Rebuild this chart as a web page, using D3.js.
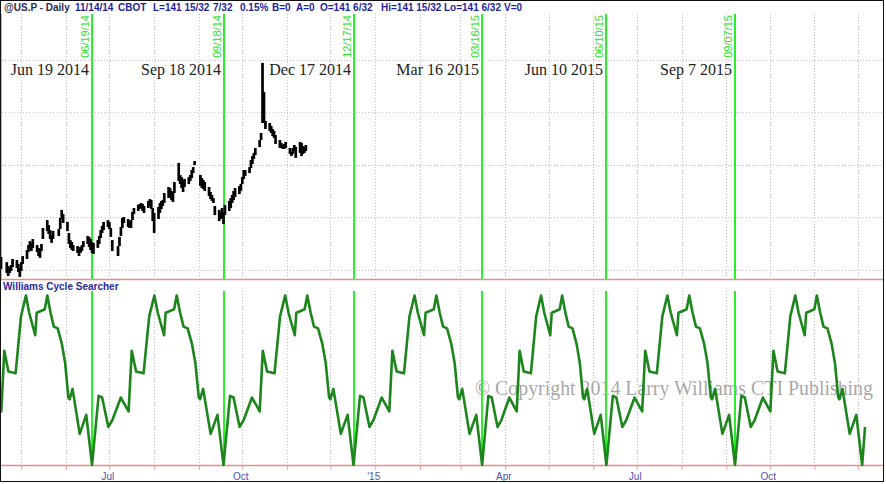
<!DOCTYPE html>
<html><head><meta charset="utf-8">
<script src="https://cdnjs.cloudflare.com/ajax/libs/d3/7.8.5/d3.min.js"></script>
<style>body{margin:0;background:#fff;} svg{display:block;}</style>
</head><body><svg id="c" width="886" height="484"></svg>
<script>
// ---------------- data ----------------
const headerItems = ["@US.P - Daily","11/14/14","CBOT","L=141 15/32","7/32","0.15%","B=0","A=0","O=141 6/32","Hi=141 15/32","Lo=141 6/32","V=0"];
const panelTitle = "Williams Cycle Searcher";
const copyrightText = "\u00A9 Copyright 2014 Larry Williams CTI Publishing";

const barStart = "2014-04-17", barEnd = "2014-11-14";
const holidays = ["2014-04-18","2014-05-26","2014-07-04","2014-09-01"];
const priceHigh = [
134.50,134.30,134.15,134.11,134.19,134.42,134.38,134.23,134.08,134.30,
134.53,134.76,134.95,135.10,135.03,135.18,134.95,134.84,134.76,134.99,
135.60,135.90,135.71,135.52,135.33,135.49,135.56,135.98,136.29,136.13,
135.83,135.41,135.14,135.07,134.95,134.91,134.80,134.88,134.95,135.10,
135.30,135.26,135.18,135.07,135.03,135.14,135.30,135.52,135.68,135.83,
135.90,135.83,135.60,135.14,134.91,135.26,135.64,135.98,136.02,135.94,
135.87,135.90,136.21,136.36,136.48,136.51,136.55,136.51,136.44,136.63,
136.70,136.67,136.36,136.17,136.40,136.55,136.63,136.67,136.93,137.16,
137.12,137.01,136.97,137.35,138.08,137.62,137.54,137.39,137.47,137.54,
137.62,137.81,137.92,138.15,137.62,137.50,137.43,137.35,137.16,136.97,
136.86,136.74,136.44,136.29,136.21,136.36,136.21,136.48,136.63,136.74,
136.86,137.01,137.12,137.20,137.28,137.54,137.81,137.81,137.92,138.19,
138.34,138.46,138.65,138.95,139.22,141.89,140.78,139.68,139.60,139.49,
139.37,139.30,139.14,138.95,138.84,138.76,138.80,138.88,138.65,138.50,
138.65,138.76,138.69,138.88,138.84,138.72,138.69,138.76];
const priceLow = [
134.08,133.92,133.81,133.92,134.00,134.15,134.11,133.96,133.77,134.00,
134.27,134.46,134.72,134.84,134.76,134.88,134.72,134.57,134.50,134.76,
135.22,135.52,135.41,135.22,135.07,135.22,135.33,135.60,135.98,135.83,
135.52,135.03,134.88,134.80,134.76,134.69,134.57,134.69,134.76,134.91,
135.03,134.91,134.80,134.69,134.65,134.88,135.03,135.26,135.45,135.56,
135.68,135.60,135.30,134.76,134.57,134.95,135.33,135.64,135.83,135.68,
135.64,135.64,135.94,136.17,136.29,136.36,136.40,136.29,136.21,136.40,
136.48,136.36,135.90,135.45,135.98,136.21,136.36,136.48,136.59,136.78,
136.82,136.70,136.63,136.97,137.43,137.31,137.16,137.01,137.20,137.31,
137.43,137.54,137.73,138.04,137.24,137.16,137.12,137.05,136.86,136.74,
136.67,136.59,136.13,135.90,135.98,136.02,135.79,136.13,136.29,136.40,
136.59,136.70,136.82,136.93,137.05,137.31,137.50,137.62,137.73,137.92,
138.08,138.27,138.42,138.72,138.99,139.64,139.64,139.41,139.33,139.26,
139.14,139.07,138.84,138.69,138.69,138.65,138.65,138.69,138.46,138.38,
138.46,138.57,138.31,138.50,138.38,138.46,138.50,138.57];
const priceTicks = [134,136,138,140,142];

const cycleDates  = ["2014-06-19","2014-09-18","2014-12-17","2015-03-16","2015-06-10","2015-09-07"];
const cycleShort  = ["06/19/14","09/18/14","12/17/14","03/16/15","06/10/15","09/07/15"];
const cycleLong   = ["Jun 19 2014","Sep 18 2014","Dec 17 2014","Mar 16 2015","Jun 10 2015","Sep 7 2015"];
const cycleTroughs = ["2014-03-24","2014-06-19","2014-09-18","2014-12-17","2015-03-16","2015-06-10","2015-09-07","2015-12-04"];
const cyclePhase = [0,0.05,0.077,0.124,0.155,0.219,0.278,0.302,0.335,0.392,0.435,0.458,0.474,0.50,0.548,0.56,0.593,0.624,0.644,0.67,0.696,0.727,0.76,0.786,0.812,0.822,0.845,0.902,0.954,1.0];
const cycleValue = [0,40,39,22,26,39,31,66,54,53,86,93,98,88,75,88,89,90,98,88,80,79,70,59,39,38,44,18,29,0];
const oscTail = { date: "2015-12-06", value: 22 };
const oscStart = "2014-04-17";

const quarterTicks  = ["2014-07-01","2014-10-01","2015-01-01","2015-04-01","2015-07-01","2015-10-01"];
const quarterLabels = ["Jul","Oct","'15","Apr","Jul","Oct"];
const axisStart = "2014-04-17", axisEnd = "2015-12-16";

// ---------------- layout ----------------
const parse = d3.timeParse("%Y-%m-%d");
const fmt = d3.timeFormat("%Y-%m-%d");
const svg = d3.select("#c");
const W = 886, H = 484;
const topY0 = 14, topY1 = 279, botY0 = 291, botY1 = 465;
const headerX = [4,75,118,153,213,240,272,296,320,381,444,504];

const x = d3.scaleTime().domain([parse(axisStart), parse(axisEnd)]).range([1, 879.5]);
const yP = d3.scaleLinear().domain([133.657, 143.752]).range([topY1, topY0]);
const yO = d3.scaleLinear().domain([0, 100]).range([botY1, 292]);

svg.append("rect").attr("width", W).attr("height", H).attr("fill", "#fff");

// grid: months
const months = d3.timeMonth.range(parse("2014-05-01"), parse("2015-12-02"));
const grid = svg.append("g").attr("stroke", "#c4c4c4").attr("stroke-width", 1).attr("stroke-dasharray", "1,2");
months.forEach(m => {
  const xx = Math.round(x(m)) + 0.5;
  grid.append("line").attr("x1", xx).attr("x2", xx).attr("y1", topY0).attr("y2", topY1 - 1);
  grid.append("line").attr("x1", xx).attr("x2", xx).attr("y1", botY0).attr("y2", botY1);
});
priceTicks.forEach(p => {
  const yy = Math.round(yP(p)) + 0.5;
  grid.append("line").attr("x1", 2).attr("x2", 882).attr("y1", yy).attr("y2", yy);
});

// copyright (watermark)
svg.append("text").attr("x", 873).attr("y", 395).attr("text-anchor", "end")
  .attr("font-family", "Liberation Serif, Times New Roman, serif").attr("font-size", 20)
  .attr("fill", "#9c9c9c").attr("fill-opacity", 0.9)
  .attr("textLength", 398).attr("lengthAdjust", "spacingAndGlyphs")
  .text(copyrightText);

// panel red lines
svg.append("line").attr("x1", 1).attr("x2", 883).attr("y1", topY1 + 0.5).attr("y2", topY1 + 0.5).attr("stroke", "#f08a8a").attr("stroke-width", 1.5);
svg.append("line").attr("x1", 1).attr("x2", 883).attr("y1", botY1 + 0.5).attr("y2", botY1 + 0.5).attr("stroke", "#f08a8a").attr("stroke-width", 1.5);
svg.append("line").attr("x1", 1.5).attr("x2", 1.5).attr("y1", topY0).attr("y2", topY1).attr("stroke", "#f0a0a0").attr("stroke-width", 1);

// month ticks under bottom red line
const tickAxis = d3.axisBottom(x).tickValues(months).tickSize(4).tickFormat("");
const tg = svg.append("g").attr("transform", `translate(0,${botY1 + 1})`).call(tickAxis);
tg.select(".domain").remove();
tg.selectAll("line").attr("stroke", "#f4a0a0");

// quarter labels
const qAxis = d3.axisBottom(x).tickValues(quarterTicks.map(parse)).tickSize(0)
  .tickFormat((d, i) => quarterLabels[i]);
const qg = svg.append("g").attr("transform", `translate(-2,${botY1 + 3})`).call(qAxis);
qg.select(".domain").remove();
qg.selectAll("text").attr("font-family", "Arial, Liberation Sans, sans-serif").attr("font-size", 10)
  .attr("fill", "#5050b0").attr("dy", "0.9em");

// cycle green lines + labels
cycleDates.forEach((ds, i) => {
  const xx = Math.round(x(parse(ds)));
  svg.append("line").attr("x1", xx).attr("x2", xx).attr("y1", topY0).attr("y2", topY1).attr("stroke", "#2bef2b").attr("stroke-width", 2);
  svg.append("line").attr("x1", xx).attr("x2", xx).attr("y1", botY0).attr("y2", botY1).attr("stroke", "#2bef2b").attr("stroke-width", 2);
  svg.append("text").attr("transform", `translate(${xx - 3},${topY0 + 1}) rotate(-90)`)
    .attr("text-anchor", "end").attr("font-family", "Arial, Liberation Sans, sans-serif")
    .attr("font-size", 11).attr("fill", "#2bdf2b").text(cycleShort[i]);
  svg.append("text").attr("x", xx - 3).attr("y", 75).attr("text-anchor", "end")
    .attr("font-family", "Liberation Serif, Times New Roman, serif").attr("font-size", 16)
    .attr("fill", "#222").text(cycleLong[i]);
});

// price bars
const hol = new Set(holidays);
const tradeDays = d3.timeDay.range(parse(barStart), d3.timeDay.offset(parse(barEnd), 1))
  .filter(d => d.getDay() !== 0 && d.getDay() !== 6 && !hol.has(fmt(d)));
const nBars = Math.min(tradeDays.length, priceHigh.length);
const bars = d3.range(nBars).map(i => ({ d: tradeDays[i], h: priceHigh[i], l: priceLow[i] }));
svg.append("g").selectAll("line").data(bars).join("line")
  .attr("x1", b => x(b.d)).attr("x2", b => x(b.d))
  .attr("y1", b => yP(b.h)).attr("y2", b => yP(b.l) + 1)
  .attr("stroke", "#000").attr("stroke-width", 2.7);

// oscillator (one cycle template laid between the cycle lows)
const oscPts = [];
for (let c = 0; c < cycleTroughs.length - 1; c++) {
  const t0 = parse(cycleTroughs[c]).getTime(), t1 = parse(cycleTroughs[c + 1]).getTime();
  cyclePhase.forEach((p, k) => {
    if (c > 0 && k === 0) return;
    oscPts.push({ d: new Date(t0 + p * (t1 - t0)), v: cycleValue[k] });
  });
}
oscPts.push({ d: parse(oscTail.date), v: oscTail.value });
svg.append("defs").append("clipPath").attr("id", "oc").append("rect")
  .attr("x", x(parse(oscStart))).attr("y", botY0 - 5)
  .attr("width", 880 - x(parse(oscStart))).attr("height", botY1 - botY0 + 10);
svg.append("path").datum(oscPts).attr("clip-path", "url(#oc)")
  .attr("d", d3.line().x(p => x(p.d)).y(p => yO(p.v)))
  .attr("fill", "none").attr("stroke", "#1c861c").attr("stroke-width", 2.6).attr("stroke-linejoin", "round");

// header
headerItems.forEach((t, i) => {
  svg.append("text").attr("x", headerX[i]).attr("y", 11)
    .attr("font-family", "Arial, Liberation Sans, sans-serif").attr("font-size", 10).attr("font-weight", "bold")
    .attr("fill", i === 0 ? "#2a2a50" : "#1f1f9a").text(t);
});
svg.append("text").attr("x", 3).attr("y", 290)
  .attr("font-family", "Arial, Liberation Sans, sans-serif").attr("font-size", 10).attr("font-weight", "bold")
  .attr("fill", "#2a2a9a").text(panelTitle);

// outer border
svg.append("rect").attr("x", 0.5).attr("y", 0.5).attr("width", 883).attr("height", 481)
  .attr("fill", "none").attr("stroke", "#111").attr("stroke-width", 1);
</script></body></html>
